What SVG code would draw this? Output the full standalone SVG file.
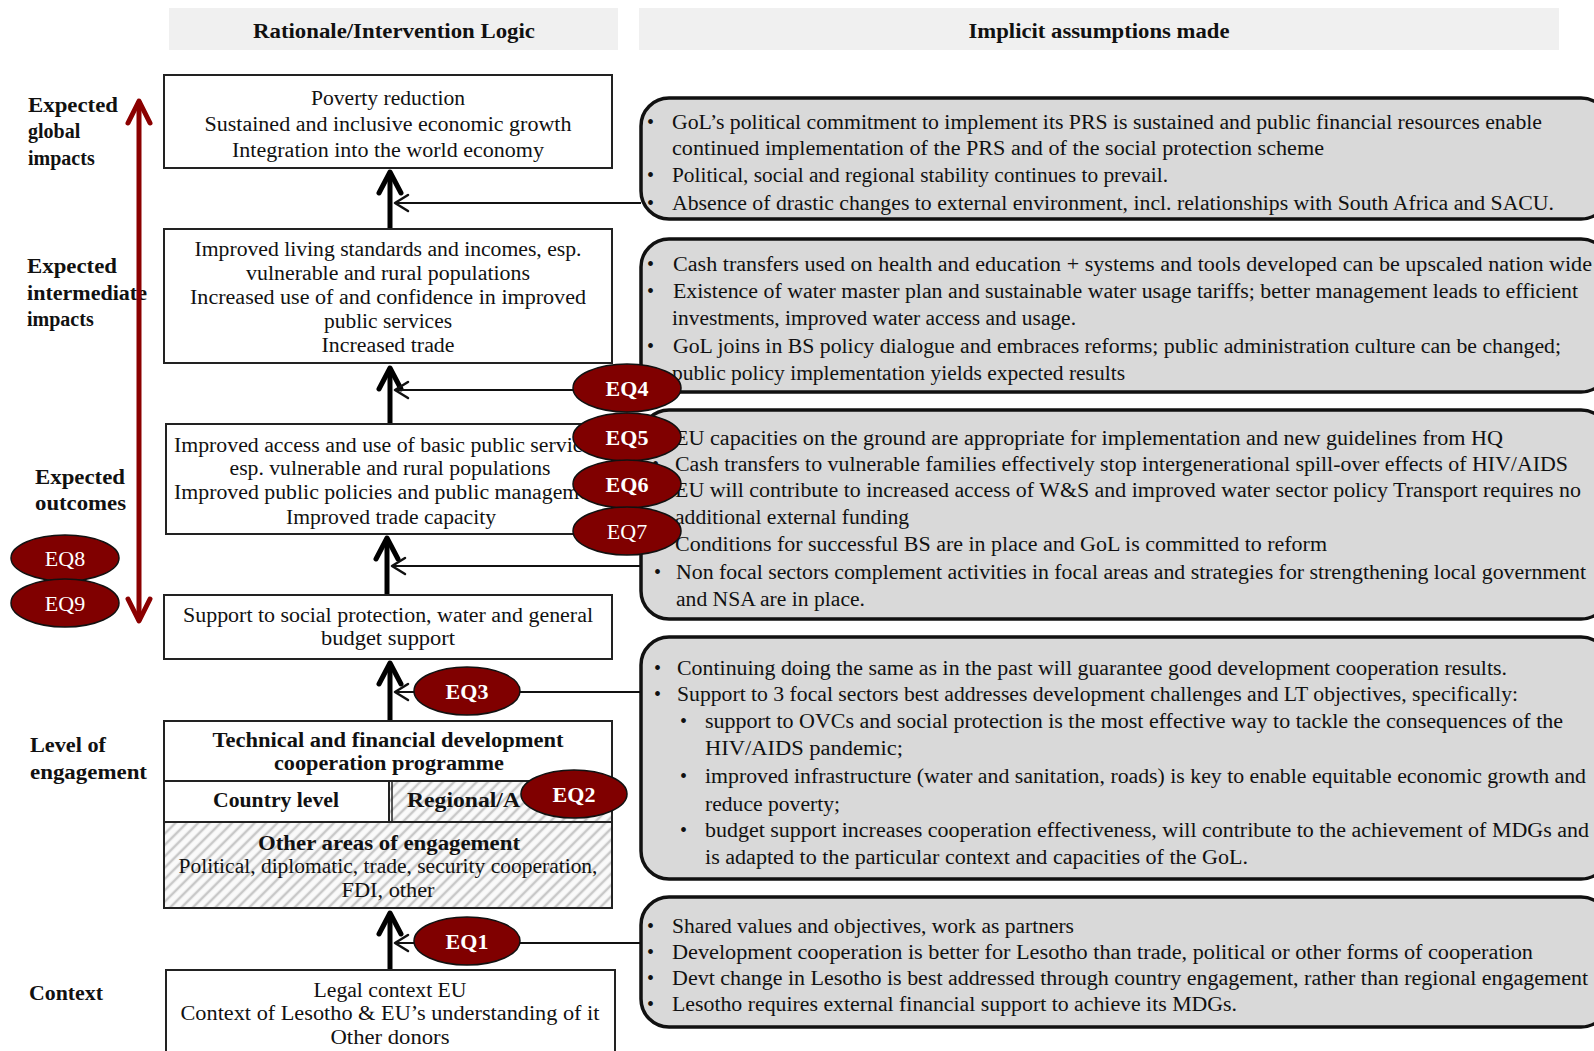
<svg xmlns="http://www.w3.org/2000/svg" width="1594" height="1051" viewBox="0 0 1594 1051">
<style>
text{font-family:"Liberation Serif","Times New Roman",serif;font-size:20px;fill:#111}
.b{font-weight:bold}
.c{text-anchor:middle}
.hdr{fill:#f0f0f0}
.box{fill:#fff;stroke:#222;stroke-width:2}
.panel{fill:#d9d9d9;stroke:#111;stroke-width:3.5}
.eq{fill:#800000;stroke:#111;stroke-width:1.5}
.eqt{fill:#fff;font-size:22px;text-anchor:middle}
.thick{stroke:#000;stroke-width:5;fill:none}
.thin{stroke:#111;stroke-width:2;fill:none}
.red{stroke:#8b0000;stroke-width:5;fill:none}
</style>
<defs>
<pattern id="hatch" patternUnits="userSpaceOnUse" width="8" height="8" patternTransform="rotate(45)">
<rect width="8" height="8" fill="#fafafa"/>
<line x1="2" y1="0" x2="2" y2="8" stroke="#c8c8c8" stroke-width="2.5"/>
</pattern>
<marker id="ahThick" markerUnits="userSpaceOnUse" viewBox="-30 -20 40 40" markerWidth="40" markerHeight="40" refX="0" refY="0" orient="auto" overflow="visible">
<path d="M-21,-11 L0,0 L-21,11" fill="none" stroke="#000" stroke-width="5" stroke-linecap="round" stroke-linejoin="round"/>
</marker>
<marker id="ahThin" markerUnits="userSpaceOnUse" viewBox="-20 -15 30 30" markerWidth="30" markerHeight="30" refX="0" refY="0" orient="auto" overflow="visible">
<path d="M-13,-8 L0,0 L-13,8" fill="none" stroke="#111" stroke-width="2.5" stroke-linecap="round" stroke-linejoin="round"/>
</marker>
<marker id="ahRed" markerUnits="userSpaceOnUse" viewBox="-30 -20 40 40" markerWidth="40" markerHeight="40" refX="0" refY="0" orient="auto-start-reverse" overflow="visible">
<path d="M-22,-11 L0,0 L-22,11" fill="none" stroke="#8b0000" stroke-width="5" stroke-linecap="round" stroke-linejoin="round"/>
</marker>
</defs>

<g id="headers">
<rect class="hdr" x="169" y="8" width="449" height="42"/>
<text class="b c" x="394" y="38" textLength="282" lengthAdjust="spacingAndGlyphs">Rationale/Intervention Logic</text>
<rect class="hdr" x="639" y="8" width="920" height="42"/>
<text class="b c" x="1099" y="38" textLength="261" lengthAdjust="spacingAndGlyphs">Implicit assumptions made</text>
</g>

<g id="level-labels">
<text class="b" x="28" y="112" textLength="90" lengthAdjust="spacingAndGlyphs">Expected</text>
<text class="b" x="28" y="138">global</text>
<text class="b" x="28" y="165">impacts</text>
<text class="b" x="27" y="273" textLength="90" lengthAdjust="spacingAndGlyphs">Expected</text>
<text class="b" x="27" y="300" textLength="120" lengthAdjust="spacingAndGlyphs">intermediate</text>
<text class="b" x="27" y="326">impacts</text>
<text class="b" x="35" y="484" textLength="90" lengthAdjust="spacingAndGlyphs">Expected</text>
<text class="b" x="35" y="510" textLength="91" lengthAdjust="spacingAndGlyphs">outcomes</text>
<text class="b" x="30" y="752" textLength="76" lengthAdjust="spacingAndGlyphs">Level of</text>
<text class="b" x="30" y="779" textLength="117" lengthAdjust="spacingAndGlyphs">engagement</text>
<text class="b" x="29" y="1000" textLength="74" lengthAdjust="spacingAndGlyphs">Context</text>
</g>

<g id="connectors">
<line class="red" x1="139" y1="621" x2="139" y2="101" marker-end="url(#ahRed)" marker-start="url(#ahRed)"/>
<line class="thick" x1="390" y1="229" x2="390" y2="172" marker-end="url(#ahThick)"/>
<line class="thick" x1="390" y1="424" x2="390" y2="368" marker-end="url(#ahThick)"/>
<line class="thick" x1="387" y1="595" x2="387" y2="538" marker-end="url(#ahThick)"/>
<line class="thick" x1="390" y1="720" x2="390" y2="663" marker-end="url(#ahThick)"/>
<line class="thick" x1="390" y1="970" x2="390" y2="913" marker-end="url(#ahThick)"/>
<line class="thin" x1="641" y1="203" x2="395" y2="203" marker-end="url(#ahThin)"/>
<line class="thin" x1="640" y1="390" x2="395" y2="390" marker-end="url(#ahThin)"/>
<line class="thin" x1="640" y1="566" x2="392" y2="566" marker-end="url(#ahThin)"/>
<line class="thin" x1="641" y1="692" x2="395" y2="692" marker-end="url(#ahThin)"/>
<line class="thin" x1="641" y1="943" x2="395" y2="943" marker-end="url(#ahThin)"/>
</g>

<g id="node-global">
<rect class="box" x="164" y="75" width="448" height="93"/>
<text class="c" x="388" y="105" textLength="154" lengthAdjust="spacingAndGlyphs">Poverty reduction</text>
<text class="c" x="388" y="131" textLength="367" lengthAdjust="spacingAndGlyphs">Sustained and inclusive  economic growth</text>
<text class="c" x="388" y="157" textLength="312" lengthAdjust="spacingAndGlyphs">Integration into the world economy</text>
</g>

<g id="node-intermediate">
<rect class="box" x="164" y="229" width="448" height="134"/>
<text class="c" x="388" y="256" textLength="387" lengthAdjust="spacingAndGlyphs">Improved living standards and incomes, esp.</text>
<text class="c" x="388" y="280" textLength="284" lengthAdjust="spacingAndGlyphs">vulnerable and rural populations</text>
<text class="c" x="388" y="304" textLength="396" lengthAdjust="spacingAndGlyphs">Increased use of  and confidence in improved</text>
<text class="c" x="388" y="328" textLength="128" lengthAdjust="spacingAndGlyphs">public services</text>
<text class="c" x="388" y="352" textLength="133" lengthAdjust="spacingAndGlyphs">Increased trade</text>
</g>

<g id="node-outcomes">
<rect class="box" x="166" y="424" width="446" height="110"/>
<text x="174" y="452" textLength="432" lengthAdjust="spacingAndGlyphs">Improved access and use of basic public services,</text>
<text class="c" x="390" y="475" textLength="321" lengthAdjust="spacingAndGlyphs">esp. vulnerable and rural populations</text>
<text x="174" y="499" textLength="432" lengthAdjust="spacingAndGlyphs">Improved public policies and public management</text>
<text class="c" x="391" y="524" textLength="210" lengthAdjust="spacingAndGlyphs">Improved trade capacity</text>
</g>

<g id="node-support">
<rect class="box" x="164" y="595" width="448" height="64"/>
<text class="c" x="388" y="622" textLength="410" lengthAdjust="spacingAndGlyphs">Support to social protection, water and general</text>
<text class="c" x="388" y="645" textLength="134" lengthAdjust="spacingAndGlyphs">budget support</text>
</g>

<g id="node-programme">
<rect class="box" x="164" y="721" width="448" height="60"/>
<text class="b c" x="388" y="747" textLength="351" lengthAdjust="spacingAndGlyphs">Technical and financial development</text>
<text class="b c" x="389" y="770" textLength="230" lengthAdjust="spacingAndGlyphs">cooperation programme</text>
<rect class="box" x="164" y="781" width="225" height="41"/>
<text class="b c" x="276" y="807" textLength="126" lengthAdjust="spacingAndGlyphs">Country level</text>
<rect x="389" y="781" width="223" height="41" fill="url(#hatch)" stroke="#222" stroke-width="2"/>
<line x1="392" y1="781" x2="392" y2="822" stroke="#222" stroke-width="1.5"/>
<text class="b" x="407" y="807" textLength="113" lengthAdjust="spacingAndGlyphs">Regional/A</text>
</g>

<g id="node-other">
<rect x="164" y="822" width="448" height="86" fill="url(#hatch)" stroke="#222" stroke-width="2"/>
<text class="b c" x="389" y="850" textLength="262" lengthAdjust="spacingAndGlyphs">Other areas of  engagement</text>
<text class="c" x="388" y="873" textLength="419" lengthAdjust="spacingAndGlyphs">Political, diplomatic, trade, security cooperation,</text>
<text class="c" x="388" y="897" textLength="93" lengthAdjust="spacingAndGlyphs">FDI, other</text>
</g>

<g id="node-context">
<rect class="box" x="166" y="970" width="449" height="95"/>
<text class="c" x="390" y="997" textLength="153" lengthAdjust="spacingAndGlyphs">Legal context EU</text>
<text class="c" x="390" y="1020" textLength="419" lengthAdjust="spacingAndGlyphs">Context of  Lesotho &amp; EU’s understanding of  it</text>
<text class="c" x="390" y="1044" textLength="119" lengthAdjust="spacingAndGlyphs">Other donors</text>
</g>

<g id="panel-1">
<rect class="panel" x="641" y="98" width="968" height="121" rx="28"/>
<text x="647" y="129">•</text><text x="672" y="129" textLength="870" lengthAdjust="spacingAndGlyphs">GoL’s political commitment to implement its PRS is sustained and public financial resources enable</text>
<text x="672" y="155" textLength="652" lengthAdjust="spacingAndGlyphs">continued implementation of  the PRS and of  the social protection scheme</text>
<text x="647" y="182">•</text><text x="672" y="182" textLength="496" lengthAdjust="spacingAndGlyphs">Political, social and regional stability continues to prevail.</text>
<text x="647" y="210">•</text><text x="672" y="210" textLength="882" lengthAdjust="spacingAndGlyphs">Absence of  drastic changes to external environment, incl. relationships with South Africa and SACU.</text>
</g>

<g id="panel-2">
<rect class="panel" x="641" y="239" width="968" height="153" rx="28"/>
<text x="647" y="271">•</text><text x="673" y="271" textLength="919" lengthAdjust="spacingAndGlyphs">Cash transfers used on health and education + systems and tools developed can be upscaled  nation wide</text>
<text x="647" y="298">•</text><text x="673" y="298" textLength="905" lengthAdjust="spacingAndGlyphs">Existence of  water master plan and sustainable water usage tariffs; better management leads to efficient</text>
<text x="672" y="325" textLength="404" lengthAdjust="spacingAndGlyphs">investments, improved water access and usage.</text>
<text x="647" y="353">•</text><text x="673" y="353" textLength="888" lengthAdjust="spacingAndGlyphs">GoL joins in BS policy dialogue and embraces reforms; public administration culture can be changed;</text>
<text x="672" y="380" textLength="453" lengthAdjust="spacingAndGlyphs">public policy implementation yields expected results</text>
</g>

<g id="panel-3">
<rect class="panel" x="641" y="410" width="968" height="209" rx="28"/>
<text x="652" y="445">•</text><text x="675" y="445" textLength="828" lengthAdjust="spacingAndGlyphs">EU capacities on the ground are appropriate for implementation and new guidelines from HQ</text>
<text x="652" y="471">•</text><text x="675" y="471" textLength="893" lengthAdjust="spacingAndGlyphs">Cash transfers to vulnerable families effectively stop intergenerational spill-over effects of  HIV/AIDS</text>
<text x="652" y="497">•</text><text x="675" y="497" textLength="906" lengthAdjust="spacingAndGlyphs">EU will contribute to increased access of  W&amp;S and improved water sector policy Transport requires no</text>
<text x="675" y="524" textLength="234" lengthAdjust="spacingAndGlyphs">additional external funding</text>
<text x="652" y="551">•</text><text x="675" y="551" textLength="652" lengthAdjust="spacingAndGlyphs">Conditions for successful BS are in place and GoL is committed to reform</text>
<text x="654" y="579">•</text><text x="676" y="579" textLength="910" lengthAdjust="spacingAndGlyphs">Non focal sectors complement activities in focal areas and strategies for strengthening local government</text>
<text x="676" y="606" textLength="189" lengthAdjust="spacingAndGlyphs">and NSA are in place.</text>
</g>

<g id="panel-4">
<rect class="panel" x="641" y="637" width="968" height="242" rx="28"/>
<text x="654" y="675">•</text><text x="677" y="675" textLength="830" lengthAdjust="spacingAndGlyphs">Continuing doing the same as in the past will guarantee good development cooperation results.</text>
<text x="654" y="701">•</text><text x="677" y="701" textLength="841" lengthAdjust="spacingAndGlyphs">Support to 3 focal sectors best addresses development challenges and LT objectives, specifically:</text>
<text x="680" y="728">•</text><text x="705" y="728" textLength="858" lengthAdjust="spacingAndGlyphs">support to OVCs and social protection is the most effective way to tackle the consequences of  the</text>
<text x="705" y="755" textLength="198" lengthAdjust="spacingAndGlyphs">HIV/AIDS pandemic;</text>
<text x="680" y="783">•</text><text x="705" y="783" textLength="881" lengthAdjust="spacingAndGlyphs">improved infrastructure (water and sanitation, roads) is key to enable equitable economic growth and</text>
<text x="705" y="811" textLength="135" lengthAdjust="spacingAndGlyphs">reduce poverty;</text>
<text x="680" y="837">•</text><text x="705" y="837" textLength="884" lengthAdjust="spacingAndGlyphs">budget support increases cooperation effectiveness, will contribute to the achievement of  MDGs and</text>
<text x="705" y="864" textLength="543" lengthAdjust="spacingAndGlyphs">is adapted to the particular context and capacities of  the GoL.</text>
</g>

<g id="panel-5">
<rect class="panel" x="641" y="897" width="968" height="130" rx="28"/>
<text x="647" y="933">•</text><text x="672" y="933" textLength="402" lengthAdjust="spacingAndGlyphs">Shared values and objectives, work as partners</text>
<text x="647" y="959">•</text><text x="672" y="959" textLength="861" lengthAdjust="spacingAndGlyphs">Development cooperation is better for Lesotho than trade, political or other forms of  cooperation</text>
<text x="647" y="985">•</text><text x="672" y="985" textLength="916" lengthAdjust="spacingAndGlyphs">Devt change in Lesotho is best addressed through country engagement, rather than regional engagement</text>
<text x="647" y="1011">•</text><text x="672" y="1011" textLength="565" lengthAdjust="spacingAndGlyphs">Lesotho requires external financial support to achieve its MDGs.</text>
</g>

<g id="eq4"><ellipse class="eq" cx="627" cy="388" rx="54" ry="24"/><text class="eqt b" x="627" y="396">EQ4</text></g>
<g id="eq5"><ellipse class="eq" cx="627" cy="437" rx="54" ry="24"/><text class="eqt b" x="627" y="445">EQ5</text></g>
<g id="eq6"><ellipse class="eq" cx="627" cy="484" rx="54" ry="24"/><text class="eqt b" x="627" y="492">EQ6</text></g>
<g id="eq7"><ellipse class="eq" cx="627" cy="531" rx="54" ry="24"/><text class="eqt" x="627" y="539">EQ7</text></g>
<g id="eq8"><ellipse class="eq" cx="65" cy="558" rx="54" ry="23"/><text class="eqt" x="65" y="566">EQ8</text></g>
<g id="eq9"><ellipse class="eq" cx="65" cy="603" rx="54" ry="24"/><text class="eqt" x="65" y="611">EQ9</text></g>
<g id="eq3"><ellipse class="eq" cx="467" cy="691" rx="53" ry="24"/><text class="eqt b" x="467" y="699">EQ3</text></g>
<g id="eq2"><ellipse class="eq" cx="574" cy="794" rx="53" ry="24"/><text class="eqt b" x="574" y="802">EQ2</text></g>
<g id="eq1"><ellipse class="eq" cx="467" cy="941" rx="53" ry="24"/><text class="eqt b" x="467" y="949">EQ1</text></g>
</svg>
